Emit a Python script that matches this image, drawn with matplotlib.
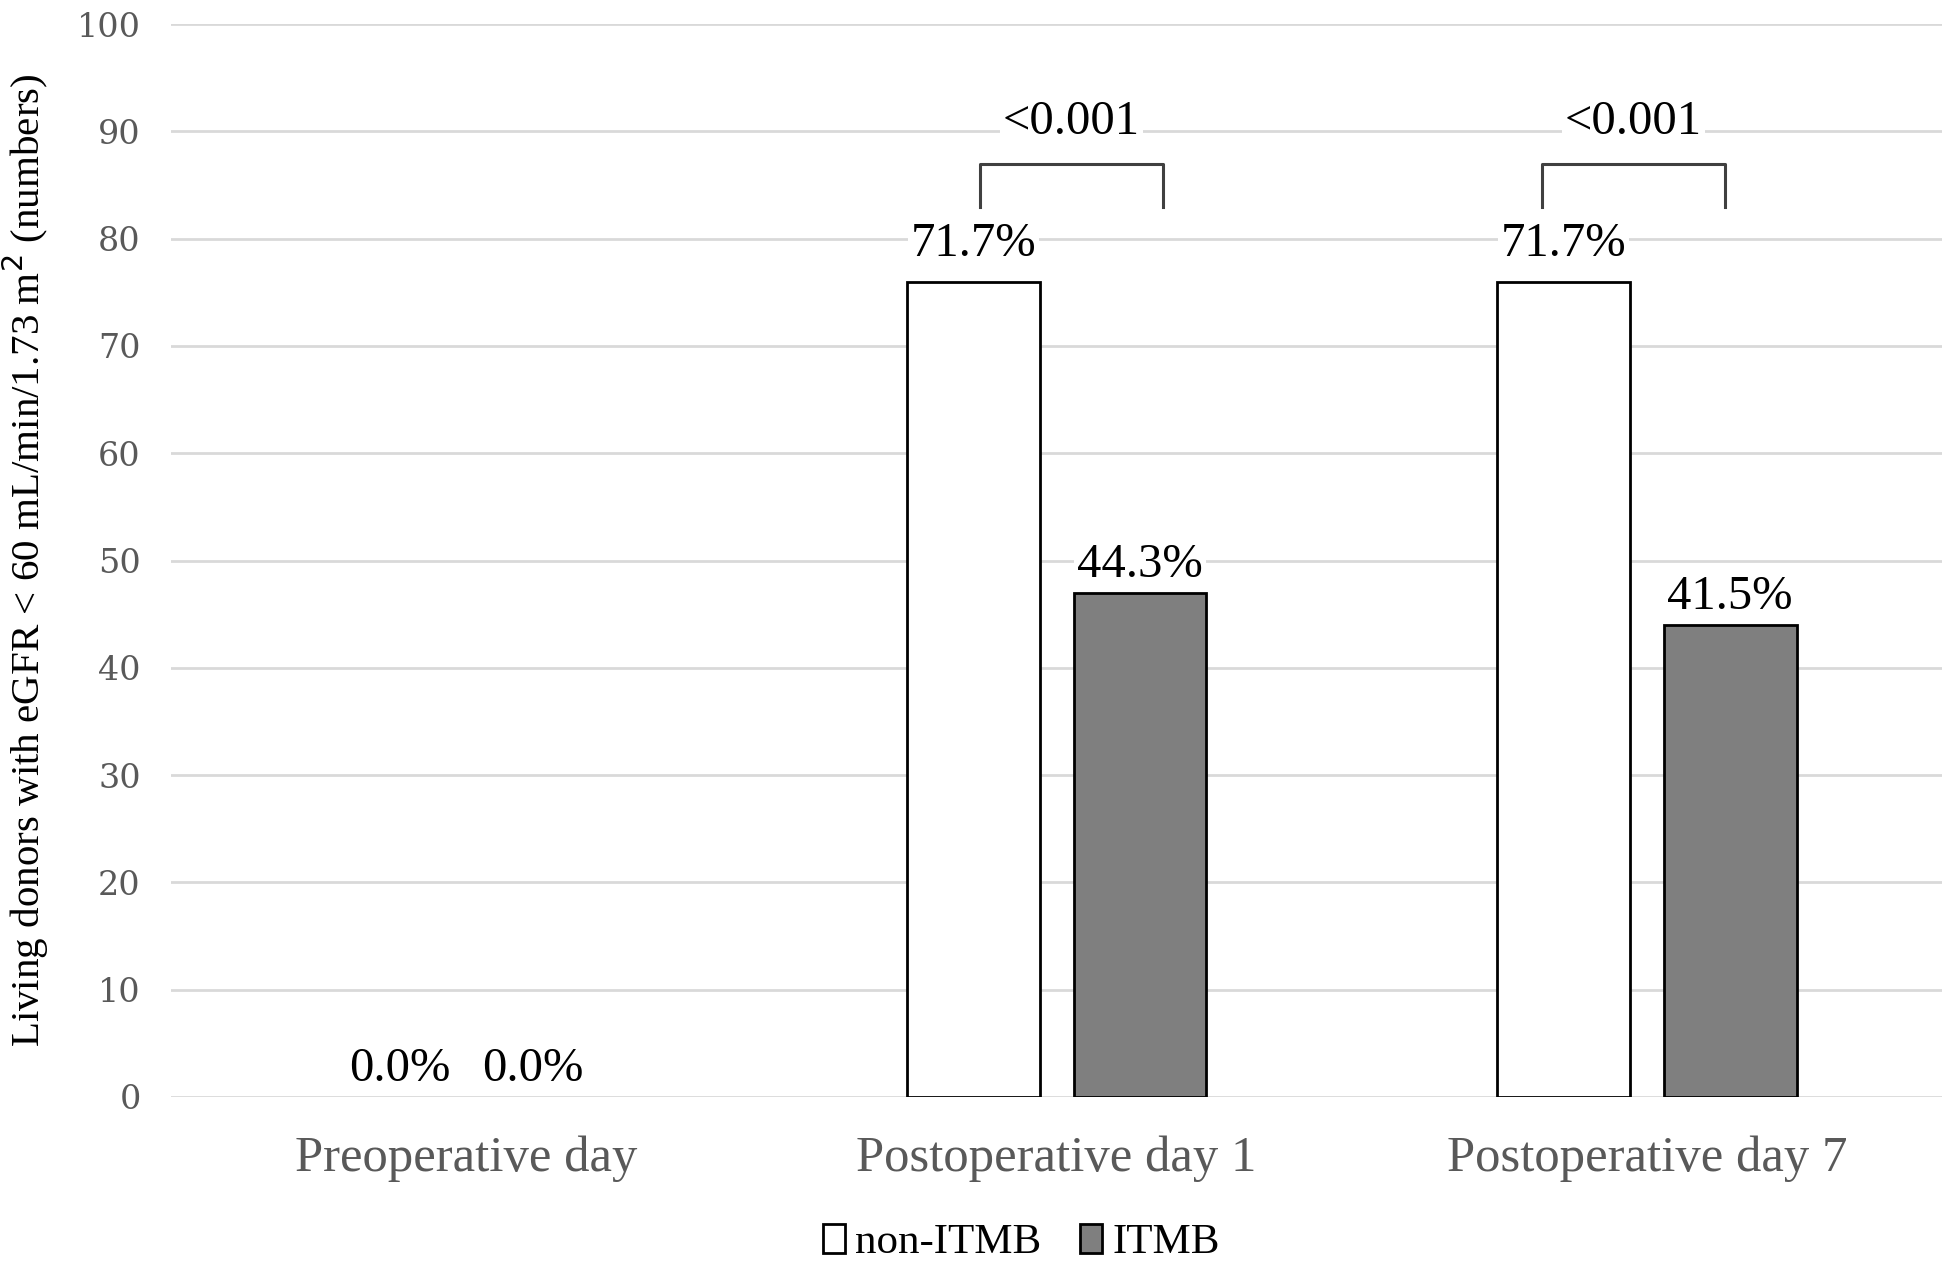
import numpy as np
import matplotlib.pyplot as plt
from matplotlib.patches import Patch

categories = ['Preoperative day', 'Postoperative day 1', 'Postoperative day 7']
non_itmb = [0, 76, 76]
itmb = [0, 47, 44]
non_itmb_pct = ['0.0%', '71.7%', '71.7%']
itmb_pct = ['0.0%', '44.3%', '41.5%']
p_values = [None, '<0.001', '<0.001']

plt.rcParams['font.family'] = ['Liberation Serif', 'DejaVu Serif']

fig = plt.figure(figsize=(19.46, 12.71), dpi=100)
ax = fig.add_axes([0.088, 0.137, 0.91, 0.844])

x = np.arange(len(categories))
w = 0.225
off = 0.141

# excel draws nothing for zero-height bars
lw1 = [2 if v > 0 else 0 for v in non_itmb]
lw2 = [2 if v > 0 else 0 for v in itmb]
ax.bar(x - off, non_itmb, w, color='white', edgecolor='black', linewidth=lw1, zorder=3)
ax.bar(x + off, itmb, w, color='#7f7f7f', edgecolor='black', linewidth=lw2, zorder=3)

# bracket ends were placed by hand in the original, not quite symmetric
br_left = [0, -0.13, -0.178]
br_right = [0, 0.18, 0.132]

box = dict(facecolor='white', edgecolor='none', pad=2)
for i in range(len(categories)):
    lift = 27 if p_values[i] else 20
    nudge = 12 if non_itmb[i] == 0 else 0
    ax.annotate(non_itmb_pct[i], (x[i] - off, non_itmb[i]), xytext=(nudge, lift),
                textcoords='offset points', ha='center', va='center', fontsize=35,
                bbox=box, zorder=4)
    nudge = -12 if itmb[i] == 0 else 0
    ax.annotate(itmb_pct[i], (x[i] + off, itmb[i]), xytext=(nudge, 20),
                textcoords='offset points', ha='center', va='center', fontsize=35,
                bbox=box, zorder=4)
    if p_values[i]:
        xl = x[i] + br_left[i]
        xr = x[i] + br_right[i]
        ax.plot([xl, xl, xr, xr], [83, 87, 87, 83], color='#404040', lw=2.2, zorder=4)
        ax.text((xl + xr) / 2, 90.9, p_values[i], ha='center', va='center',
                fontsize=35, bbox=box, zorder=4)

ax.set_xlim(-0.5, 2.5)
ax.set_ylim(0, 100)
ax.set_yticks(range(0, 101, 10))
ax.set_yticklabels([str(t) for t in range(0, 101, 10)], family='DejaVu Serif')
ax.set_xticks(x)
ax.set_xticklabels(categories, fontsize=36.5, color='#595959')
ax.tick_params(axis='y', labelsize=24, labelcolor='#595959', length=0, pad=22)
ax.tick_params(axis='x', length=0, pad=28)
ax.grid(axis='y', color='#d9d9d9', linewidth=2, zorder=0)
for s in ax.spines.values():
    s.set_visible(False)

ax.set_ylabel('Living donors with eGFR < 60 mL/min/1.73 m$^2$ (numbers)', fontsize=29.5)
ax.yaxis.set_label_coords(-0.068, 0.5)

handles = [Patch(facecolor='white', edgecolor='black', linewidth=2, label='non-ITMB'),
           Patch(facecolor='#7f7f7f', edgecolor='black', linewidth=2, label='ITMB')]
fig.legend(handles=handles, loc='center', bbox_to_anchor=(0.525, 0.022), ncol=2,
           frameon=False, fontsize=31, handlelength=0.5, handleheight=0.65,
           handletextpad=0.25, columnspacing=0.9)

fig.savefig('out.png', dpi=100)
